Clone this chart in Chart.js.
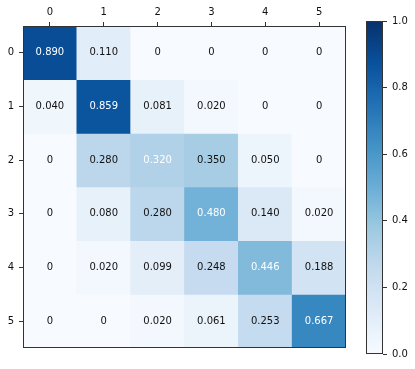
<!DOCTYPE html>
<html>
<head>
<meta charset="utf-8">
<script src="https://cdn.jsdelivr.net/npm/chart.js@4"></script>
<style>
  html, body { margin: 0; padding: 0; background: #fff; overflow: hidden; }
  #wrapMain { position: absolute; left: 0; top: 0; width: 350px; height: 369px; }
  #wrapBar { position: absolute; left: 350px; top: 0; width: 65px; height: 369px; }
</style>
</head>
<body>
<div id="wrapMain"><canvas id="chartMatriz"></canvas></div>
<div id="wrapBar"><canvas id="chartBarra"></canvas></div>
<script>
// ===== DADOS =====
const colLabels = ['0', '1', '2', '3', '4', '5'];
const rowLabels = ['0', '1', '2', '3', '4', '5'];
const row0 = [0.890, 0.110, 0, 0, 0, 0];
const row1 = [0.040, 0.859, 0.081, 0.020, 0, 0];
const row2 = [0, 0.280, 0.320, 0.350, 0.050, 0];
const row3 = [0, 0.080, 0.280, 0.480, 0.140, 0.020];
const row4 = [0, 0.020, 0.099, 0.248, 0.446, 0.188];
const row5 = [0, 0, 0.020, 0.061, 0.253, 0.667];
const rows = [row0, row1, row2, row3, row4, row5];
const cbTicks = [0, 0.2, 0.4, 0.6, 0.8, 1.0];

// ===== COLORMAP (Blues) =====
const blues = ['#f7fbff', '#deebf7', '#c6dbef', '#9ecae1', '#6baed6', '#4292c6', '#2171b5', '#08519c', '#08306b'];

function hexRgb(h) {
  return [parseInt(h.slice(1, 3), 16), parseInt(h.slice(3, 5), 16), parseInt(h.slice(5, 7), 16)];
}

function corBlues(v) {
  v = Math.max(0, Math.min(1, v));
  const pos = v * (blues.length - 1);
  const i = Math.min(Math.floor(pos), blues.length - 2);
  const t = pos - i;
  const a = hexRgb(blues[i]), b = hexRgb(blues[i + 1]);
  const c = a.map((x, k) => Math.round(x + (b[k] - x) * t));
  return `rgb(${c[0]},${c[1]},${c[2]})`;
}

const FONTE = 'DejaVu Sans';
const COR_EIXO = '#333';

// moldura em volta da área do gráfico
const moldura = {
  id: 'moldura',
  afterDraw(chart) {
    const { ctx, chartArea: a } = chart;
    ctx.save();
    ctx.strokeStyle = COR_EIXO;
    ctx.lineWidth = 1;
    ctx.strokeRect(Math.round(a.left) + 0.5, Math.round(a.top) + 0.5,
      Math.round(a.right - a.left) - 1, Math.round(a.bottom - a.top) - 1);
    ctx.restore();
  }
};

// valores dentro das células (diagonal em branco)
const textos = {
  id: 'textos',
  afterDatasetsDraw(chart) {
    const { ctx } = chart;
    ctx.save();
    ctx.font = `10px "${FONTE}"`;
    ctx.textAlign = 'center';
    ctx.textBaseline = 'middle';
    chart.data.datasets.forEach((ds, r) => {
      chart.getDatasetMeta(r).data.forEach((bar, c) => {
        const v = rows[r][c];
        ctx.fillStyle = r === c ? '#fff' : '#111';
        ctx.fillText(v === 0 ? '0' : v.toFixed(3), bar.x, (bar.y + bar.base) / 2);
      });
    });
    ctx.restore();
  }
};

// ===== MATRIZ =====
new Chart(document.getElementById('chartMatriz'), {
  type: 'bar',
  data: {
    labels: colLabels,
    datasets: rows.map((vals, r) => ({
      label: rowLabels[r],
      data: vals.map(() => [r - 0.5, r + 0.5]),
      backgroundColor: vals.map(v => corBlues(v)),
      borderWidth: 0,
      barPercentage: 1,
      categoryPercentage: 1,
      grouped: false
    }))
  },
  options: {
    responsive: true,
    maintainAspectRatio: false,
    animation: false,
    layout: { padding: { left: 0, right: 4, top: 0, bottom: 21 } },
    plugins: { legend: { display: false }, tooltip: { enabled: false } },
    scales: {
      x: {
        position: 'top',
        grid: { offset: false, drawOnChartArea: false, tickLength: 4, color: COR_EIXO },
        border: { display: false },
        ticks: { color: '#111', padding: 4, font: { family: FONTE, size: 10 } },
        afterFit: axis => { axis.height = 26; }
      },
      y: {
        min: -0.5,
        max: 5.5,
        reverse: true,
        grid: { drawOnChartArea: false, tickLength: 4, color: COR_EIXO },
        border: { display: false },
        afterBuildTicks: axis => { axis.ticks = rowLabels.map((_, i) => ({ value: i })); },
        ticks: {
          color: '#111',
          padding: 5,
          font: { family: FONTE, size: 10 },
          callback: v => rowLabels[v]
        },
        afterFit: axis => { axis.width = 23; }
      }
    }
  },
  plugins: [textos, moldura]
});

// ===== BARRA DE CORES =====
new Chart(document.getElementById('chartBarra'), {
  type: 'bar',
  data: {
    labels: [''],
    datasets: [{
      data: [[cbTicks[0], cbTicks[cbTicks.length - 1]]],
      backgroundColor: ctx => {
        const { chart } = ctx;
        if (!chart.chartArea) return blues[0];
        const y = chart.scales.y;
        const g = chart.ctx.createLinearGradient(0, y.getPixelForValue(0), 0, y.getPixelForValue(1));
        blues.forEach((c, i) => g.addColorStop(i / (blues.length - 1), c));
        return g;
      },
      borderWidth: 0,
      barPercentage: 1,
      categoryPercentage: 1
    }]
  },
  options: {
    responsive: true,
    maintainAspectRatio: false,
    animation: false,
    layout: { padding: { left: 16, right: 0, top: 21, bottom: 15 } },
    plugins: { legend: { display: false }, tooltip: { enabled: false } },
    scales: {
      x: { display: false },
      y: {
        position: 'right',
        min: 0,
        max: 1,
        grid: { drawOnChartArea: false, tickLength: 4, color: COR_EIXO },
        border: { display: false },
        afterBuildTicks: axis => { axis.ticks = cbTicks.map(v => ({ value: v })); },
        ticks: {
          color: '#111',
          padding: 5,
          font: { family: FONTE, size: 10 },
          callback: v => Number(v).toFixed(1)
        },
        afterFit: axis => { axis.width = 32; }
      }
    }
  },
  plugins: [moldura]
});
</script>
</body>
</html>
